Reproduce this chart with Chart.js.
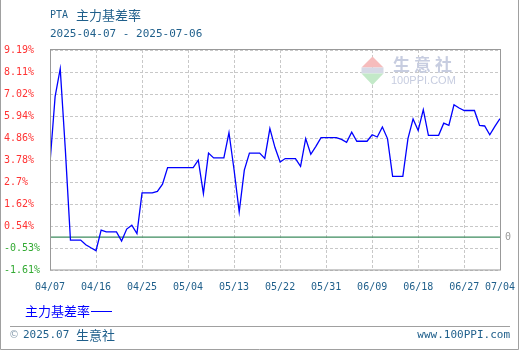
<!DOCTYPE html>
<html>
<head>
<meta charset="utf-8">
<script src="https://cdn.jsdelivr.net/npm/chart.js@4/dist/chart.umd.min.js"></script>
<style>
  html, body { margin: 0; padding: 0; background: #fff; }
  #wrap { width: 520px; height: 350px; }
</style>
</head>
<body>
<div id="wrap"><canvas id="jiChart" width="520" height="350"></canvas></div>
<script>
/* PTA 主力基差率 2025-04-07 ~ 2025-07-04 */
var dates = [
  "04/07","04/08","04/09","04/10","04/11","04/12","04/13","04/14","04/15","04/16",
  "04/17","04/18","04/19","04/20","04/21","04/22","04/23","04/24","04/25","04/26",
  "04/27","04/28","04/29","04/30","05/01","05/02","05/03","05/04","05/05","05/06",
  "05/07","05/08","05/09","05/10","05/11","05/12","05/13","05/14","05/15","05/16",
  "05/17","05/18","05/19","05/20","05/21","05/22","05/23","05/24","05/25","05/26",
  "05/27","05/28","05/29","05/30","05/31","06/01","06/02","06/03","06/04","06/05",
  "06/06","06/07","06/08","06/09","06/10","06/11","06/12","06/13","06/14","06/15",
  "06/16","06/17","06/18","06/19","06/20","06/21","06/22","06/23","06/24","06/25",
  "06/26","06/27","06/28","06/29","06/30","07/01","07/02","07/03","07/04"
];

var jicha = [
  3.65, 6.9, 8.27, 4.3, -0.14, -0.14, -0.14, -0.37, -0.52, -0.66,
  0.35, 0.26, 0.26, 0.26, -0.19, 0.4, 0.59, 0.18, 2.18, 2.18,
  2.18, 2.25, 2.6, 3.42, 3.42, 3.42, 3.42, 3.42, 3.42, 3.78,
  2.14, 4.13, 3.89, 3.89, 3.89, 5.13, 3.3, 1.24, 3.29, 4.13,
  4.13, 4.13, 3.87, 5.33, 4.4, 3.69, 3.86, 3.86, 3.86, 3.48,
  4.84, 4.07, 4.46, 4.89, 4.89, 4.89, 4.89, 4.8, 4.66, 5.16,
  4.71, 4.71, 4.71, 5.03, 4.92, 5.41, 4.84, 2.99, 2.99, 2.99,
  4.84, 5.8, 5.24, 6.26, 5.0, 5.0, 5.0, 5.6, 5.49, 6.5,
  6.34, 6.22, 6.22, 6.22, 5.49, 5.46, 5.03, 5.44, 5.82
];

var xTickIdx = [0, 9, 18, 27, 36, 45, 54, 63, 72, 81, 88];
var yTicks = [-1.61, -0.53, 0.54, 1.62, 2.7, 3.78, 4.86, 5.94, 7.02, 8.11, 9.19];

var koyuMavi = "#1f5f8b";
var monoFont = "DejaVu Sans Mono";
var cjkFont = "Noto Sans CJK SC";

var noktalar = jicha.map(function (v, i) { return { x: i, y: v }; });

/* sabit yazilar, cerceve, logo */
var susleme = {
  id: "susleme",
  beforeDraw: function (chart) {
    var c = chart.ctx;
    c.save();
    c.fillStyle = "#fff";
    c.fillRect(0, 0, chart.width, chart.height);
    c.restore();
  },
  beforeDatasetsDraw: function (chart) {
    var c = chart.ctx;
    c.save();
    // logo
    c.fillStyle = "#f6bcbc";
    c.beginPath();
    c.moveTo(372.5, 56.5); c.lineTo(361.5, 67.5); c.lineTo(383.5, 67.5); c.closePath();
    c.fill();
    c.fillStyle = "#d6d9e6";
    c.fillRect(361.5, 67.5, 22, 6);
    c.fillStyle = "#c3e9c8";
    c.beginPath();
    c.moveTo(361.5, 73.5); c.lineTo(383.5, 73.5); c.lineTo(372.5, 85); c.closePath();
    c.fill();
    c.fillStyle = "#c7cde0";
    c.font = "bold 17px '" + cjkFont + "'";
    c.textBaseline = "middle";
    c.textAlign = "left";
    c.fillText("生", 393, 65);
    c.fillText("意", 414, 65);
    c.fillText("社", 435, 65);
    c.font = "11px 'Liberation Sans'";
    c.fillText("100PPI.COM", 391, 81);
    c.restore();
  },
  afterDraw: function (chart) {
    var c = chart.ctx;
    var a = chart.chartArea;
    c.save();
    // plot cercevesi
    c.strokeStyle = "#999";
    c.lineWidth = 1;
    c.strokeRect(Math.round(a.left) + 0.5, Math.round(a.top) - 0.5, Math.round(a.right - a.left), Math.round(a.bottom - a.top) + 0.5);
    // dis cerceve
    c.strokeStyle = "#a0a0a0";
    c.beginPath();
    c.moveTo(0.5, 0); c.lineTo(0.5, 349.5); c.lineTo(518.5, 349.5); c.lineTo(518.5, 0);
    c.stroke();
    c.beginPath();
    c.moveTo(10, 326.5); c.lineTo(510, 326.5);
    c.stroke();

    // "0" etiketi
    var y0 = chart.scales.y.getPixelForValue(0);
    c.fillStyle = "#999";
    c.font = "10px '" + monoFont + "'";
    c.textBaseline = "middle";
    c.textAlign = "left";
    c.fillText("0", 505, y0);

    // baslik
    c.fillStyle = koyuMavi;
    c.font = "10px '" + monoFont + "'";
    c.fillText("PTA", 50, 15);
    c.font = "13px '" + cjkFont + "'";
    c.fillText("主力基差率", 76, 15);
    c.font = "11px '" + monoFont + "'";
    c.fillText("2025-04-07 - 2025-07-06", 50, 34);

    // lejant
    c.fillStyle = "#0000ff";
    c.font = "13px '" + cjkFont + "'";
    c.fillText("主力基差率", 25, 311);
    c.strokeStyle = "#0000ff";
    c.beginPath();
    c.moveTo(91, 311.5); c.lineTo(112, 311.5);
    c.stroke();

    // alt bilgi
    c.fillStyle = "#8a9fb0";
    c.font = "10px 'DejaVu Sans'";
    c.fillText("©", 9, 335);
    c.fillStyle = koyuMavi;
    c.font = "11px '" + monoFont + "'";
    c.fillText("2025.07", 23, 335);
    c.font = "13px '" + cjkFont + "'";
    c.fillText("生意社", 76, 335);
    c.font = "11px '" + monoFont + "'";
    c.textAlign = "right";
    c.fillText("www.100PPI.com", 510, 335);
    c.restore();
  }
};

var ctx = document.getElementById("jiChart");
var myChart = new Chart(ctx, {
  type: "line",
  data: {
    datasets: [{
      label: "主力基差率",
      data: noktalar,
      borderColor: "#0000ff",
      borderWidth: 1.3,
      pointRadius: 0,
      tension: 0,
      fill: false,
      order: 0
    }, {
      label: "0",
      data: [{ x: 0, y: 0 }, { x: 88, y: 0 }],
      borderColor: "#3d8b5e",
      borderWidth: 1.3,
      pointRadius: 0,
      fill: false,
      order: 1
    }]
  },
  options: {
    responsive: false,
    animation: false,
    layout: { padding: { left: 4, right: 20, top: 50, bottom: 50 } },
    plugins: {
      legend: { display: false },
      tooltip: { enabled: false }
    },
    scales: {
      x: {
        type: "linear",
        min: 0,
        max: 88,
        afterBuildTicks: function (s) {
          s.ticks = xTickIdx.map(function (v) { return { value: v }; });
        },
        afterFit: function (s) {
          s.height = 30;
          s.paddingLeft = 0;
          s.paddingRight = 0;
        },
        grid: { color: "#c8c8c8", drawTicks: false },
        border: { display: false, dash: [3, 2] },
        ticks: {
          padding: 11,
          maxRotation: 0,
          autoSkip: false,
          color: koyuMavi,
          font: { family: monoFont, size: 10 },
          callback: function (v) { return dates[v]; }
        }
      },
      y: {
        min: -1.61,
        max: 9.19,
        afterBuildTicks: function (s) {
          s.ticks = yTicks.map(function (v) { return { value: v }; });
        },
        afterFit: function (s) {
          s.width = 46;
          s.paddingTop = 0;
          s.paddingBottom = 0;
        },
        grid: { color: "#c8c8c8", drawTicks: false },
        border: { display: false, dash: [3, 2] },
        ticks: {
          crossAlign: "far",
          padding: 0,
          font: { family: monoFont, size: 10 },
          color: function (c) { return c.tick && c.tick.value < 0 ? "#33aa33" : "#ff3333"; },
          callback: function (v) { return v + "%"; }
        }
      }
    }
  },
  plugins: [susleme]
});
</script>
</body>
</html>
